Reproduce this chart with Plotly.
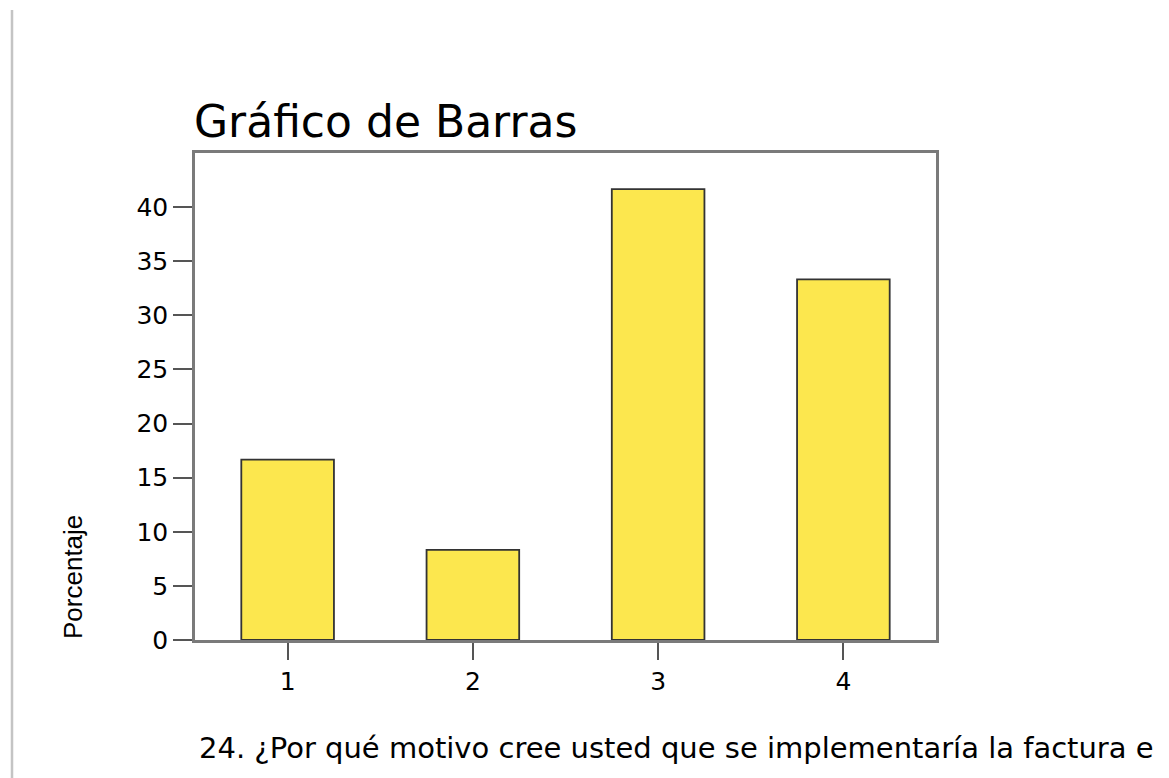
import plotly.graph_objects as go

# Datos
categorias = ["1", "2", "3", "4"]
porcentajes = [16.67, 8.33, 41.67, 33.33]
ticks_y = [0, 5, 10, 15, 20, 25, 30, 35, 40]

titulo = "Gráfico de Barras"
titulo_y = "Porcentaje"
pregunta = "24. ¿Por qué motivo cree usted que se implementaría la factura e"

# la página añade 8px de margen al body, se compensa aquí
W, H = 1169, 778
L, R, T, B = 187, 241, 145, 146
pw, ph = W - L - R, H - T - B

fig = go.Figure(go.Bar(
    x=categorias,
    y=porcentajes,
    width=0.5,
    marker=dict(color="#FCE74E", line=dict(color="#333333", width=1.8)),
))

fig.update_layout(
    width=W, height=H,
    margin=dict(l=L, r=R, t=T, b=B),
    plot_bgcolor="white",
    paper_bgcolor="white",
    showlegend=False,
    font=dict(family="DejaVu Sans, Verdana, sans-serif", color="#000000"),
    title=dict(
        text=titulo,
        x=(L - 1) / W, xanchor="left",
        y=1 - 129 / H, yanchor="bottom",
        font=dict(size=44, color="#000000"),
    ),
)

fig.update_xaxes(
    type="category",
    range=[-0.5, 3.5],
    showline=True, mirror=True, linecolor="#7a7a7a", linewidth=2.5,
    ticks="outside", ticklen=17, tickwidth=2, tickcolor="#555555",
    tickfont=dict(size=25),
    showgrid=False,
)
fig.update_yaxes(
    range=[0, 45],
    tickvals=ticks_y,
    showline=True, mirror=True, linecolor="#7a7a7a", linewidth=2.5,
    ticks="outside", ticklen=19, tickwidth=2, tickcolor="#555555",
    tickfont=dict(size=25),
    showgrid=False, zeroline=False,
)

# Título del eje Y
fig.add_annotation(
    text=titulo_y, textangle=-90,
    xref="paper", yref="paper",
    x=(65 - L) / pw, y=(H - B - 569) / ph,
    xanchor="center", yanchor="middle",
    showarrow=False,
    font=dict(family="Liberation Sans, Arial, sans-serif", size=26),
)

# Pregunta bajo el gráfico
fig.add_annotation(
    text=pregunta,
    xref="paper", yref="paper",
    x=(189 - L) / pw, y=-(740 - (H - B)) / ph,
    xanchor="left", yanchor="middle",
    showarrow=False,
    font=dict(size=29),
)

# Línea vertical a la izquierda
fig.add_shape(
    type="line", xref="paper", yref="paper",
    x0=(4 - L) / pw, x1=(4 - L) / pw,
    y0=-B / ph, y1=(H - B - 2) / ph,
    line=dict(color="#c4c4c4", width=2.5),
)

fig.write_html("out.html")
